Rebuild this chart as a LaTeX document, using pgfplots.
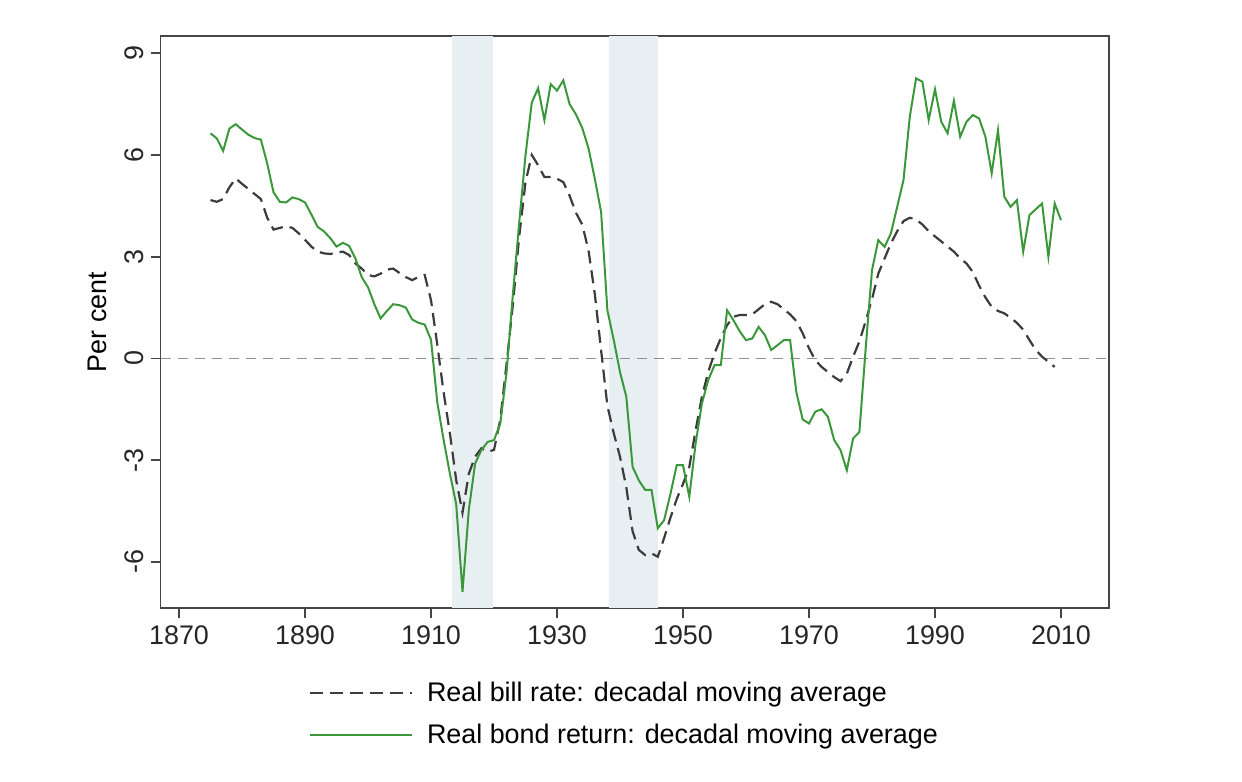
\documentclass[border=0pt]{standalone}
\usepackage{fontspec}
\setmainfont{Liberation Sans}
\usepackage{pgfplots}
\usepackage{pgfplotstable}
\pgfplotsset{compat=1.18}
\definecolor{bondgreen}{RGB}{58,152,58}
\definecolor{billgray}{RGB}{60,60,60}
\definecolor{shade}{RGB}{232,239,242}
\definecolor{axisgray}{RGB}{70,70,70}
\definecolor{zerogray}{RGB}{145,145,145}

\pgfplotstableread{
year val
1875 4.67
1876 4.62
1877 4.70
1878 5.05
1879 5.31
1880 5.15
1881 5.00
1882 4.85
1883 4.70
1884 4.15
1885 3.80
1886 3.85
1887 3.90
1888 3.85
1889 3.69
1890 3.50
1891 3.30
1892 3.15
1893 3.10
1894 3.08
1895 3.12
1896 3.15
1897 3.05
1898 2.80
1899 2.65
1900 2.46
1901 2.42
1902 2.50
1903 2.62
1904 2.65
1905 2.52
1906 2.40
1907 2.31
1908 2.40
1909 2.46
1910 1.72
1911 0.40
1912 -1.00
1913 -2.21
1914 -3.59
1915 -4.55
1916 -3.40
1917 -2.90
1918 -2.65
1919 -2.75
1920 -2.70
1921 -1.80
1922 -0.15
1923 1.60
1924 3.60
1925 5.20
1926 6.00
1927 5.70
1928 5.35
1929 5.35
1930 5.30
1931 5.20
1932 4.80
1933 4.30
1934 3.95
1935 3.19
1936 1.90
1937 0.24
1938 -1.40
1939 -2.20
1940 -2.90
1941 -3.80
1942 -5.10
1943 -5.65
1944 -5.80
1945 -5.75
1946 -5.85
1947 -5.30
1948 -4.70
1949 -4.15
1950 -3.70
1951 -3.20
1952 -2.12
1953 -1.13
1954 -0.40
1955 0.15
1956 0.60
1957 0.98
1958 1.23
1959 1.28
1960 1.28
1961 1.30
1962 1.45
1963 1.60
1964 1.67
1965 1.60
1966 1.45
1967 1.30
1968 1.10
1969 0.74
1970 0.30
1971 -0.05
1972 -0.25
1973 -0.40
1974 -0.55
1975 -0.67
1976 -0.45
1977 0.05
1978 0.50
1979 1.10
1980 1.75
1981 2.50
1982 2.95
1983 3.39
1984 3.75
1985 4.05
1986 4.15
1987 4.10
1988 3.95
1989 3.75
1990 3.60
1991 3.45
1992 3.30
1993 3.15
1994 2.95
1995 2.80
1996 2.55
1997 2.15
1998 1.80
1999 1.52
2000 1.40
2001 1.33
2002 1.20
2003 1.05
2004 0.85
2005 0.54
2006 0.25
2007 0.05
2008 -0.10
2009 -0.25
}\billtable

\pgfplotstableread{
year val
1875 6.64
1876 6.49
1877 6.12
1878 6.78
1879 6.91
1880 6.75
1881 6.60
1882 6.50
1883 6.45
1884 5.75
1885 4.90
1886 4.62
1887 4.60
1888 4.75
1889 4.70
1890 4.60
1891 4.25
1892 3.88
1893 3.75
1894 3.55
1895 3.30
1896 3.41
1897 3.32
1898 2.95
1899 2.40
1900 2.10
1901 1.60
1902 1.18
1903 1.40
1904 1.60
1905 1.57
1906 1.50
1907 1.15
1908 1.05
1909 1.00
1910 0.55
1911 -1.30
1912 -2.40
1913 -3.40
1914 -4.30
1915 -6.88
1916 -4.47
1917 -3.10
1918 -2.70
1919 -2.46
1920 -2.41
1921 -1.92
1922 -0.40
1923 1.90
1924 4.00
1925 6.00
1926 7.55
1927 7.97
1928 7.03
1929 8.09
1930 7.90
1931 8.20
1932 7.50
1933 7.20
1934 6.80
1935 6.20
1936 5.30
1937 4.32
1938 1.42
1939 0.55
1940 -0.40
1941 -1.13
1942 -3.20
1943 -3.60
1944 -3.88
1945 -3.88
1946 -5.01
1947 -4.77
1948 -4.00
1949 -3.15
1950 -3.15
1951 -4.08
1952 -2.51
1953 -1.33
1954 -0.64
1955 -0.20
1956 -0.20
1957 1.42
1958 1.13
1959 0.80
1960 0.54
1961 0.59
1962 0.93
1963 0.69
1964 0.25
1965 0.39
1966 0.54
1967 0.54
1968 -1.00
1969 -1.80
1970 -1.92
1971 -1.57
1972 -1.50
1973 -1.72
1974 -2.41
1975 -2.70
1976 -3.30
1977 -2.36
1978 -2.17
1979 0.30
1980 2.60
1981 3.49
1982 3.29
1983 3.69
1984 4.47
1985 5.26
1986 7.13
1987 8.26
1988 8.16
1989 7.03
1990 7.94
1991 6.98
1992 6.64
1993 7.60
1994 6.54
1995 6.98
1996 7.18
1997 7.08
1998 6.54
1999 5.46
2000 6.73
2001 4.77
2002 4.47
2003 4.67
2004 3.15
2005 4.23
2006 4.40
2007 4.57
2008 3.00
2009 4.57
2010 4.08
}\bondtable

\begin{document}
\begin{tikzpicture}
\begin{axis}[
  at={(0,0)}, anchor=south west,
  scale only axis, width=474.4bp, height=286.15bp,
  xmin=1867.06, xmax=2017.67, ymin=-7.37, ymax=9.51,
  xtick={1870,1890,1910,1930,1950,1970,1990,2010},
  ytick={-6,-3,0,3,6,9},
  xtick pos=bottom, ytick pos=left,
  tick align=outside, major tick length=5bp,
  tick style={axisgray, line width=0.9bp},
  axis line style={axisgray, line width=0.9bp},
  /pgf/number format/1000 sep={},
  /pgf/number format/assume math mode=true,
  font=\fontsize{13.5}{16}\selectfont,
  tick label style={font=\fontsize{13.5}{16}\selectfont, text=black!85},
  yticklabel style={rotate=90, anchor=south},
  ylabel={Per cent},
  ylabel style={at={(axis description cs:-0.0664,0.5)}, anchor=center, font=\fontsize{13.5}{16}\selectfont},
  legend style={at={(axis description cs:0.49,0)}, anchor=north, yshift=-32.5bp,
    draw=none, fill=none, font=\fontsize{13.5}{16}\selectfont, row sep=6bp},
  legend cell align=left,
  legend image code/.code={\path[draw=none] (0bp,0bp) -- (56.5bp,0bp);\draw[#1] (0bp,0bp) -- (51bp,0bp);},
  clip=true,
]
\addplot[fill=shade, draw=none, forget plot] coordinates {(1913.3,-7.37) (1919.9,-7.37) (1919.9,9.51) (1913.3,9.51)} -- cycle;
\addplot[fill=shade, draw=none, forget plot] coordinates {(1938.3,-7.37) (1946.1,-7.37) (1946.1,9.51) (1938.3,9.51)} -- cycle;
\addplot[zerogray, line width=0.7bp, dash pattern=on 5bp off 3.5bp, forget plot] coordinates {(1867.06,0) (2017.67,0)};
\addplot[billgray, line width=1.1bp, dash pattern=on 6.5bp off 3.5bp] table[x=year,y=val] {\billtable};
\addlegendentry{Real bill rate: decadal moving average}
\addplot[bondgreen, line width=1bp] table[x=year,y=val] {\bondtable};
\addlegendentry{Real bond return: decadal moving average}
\end{axis}
\pgfresetboundingbox
\useasboundingbox (-80.25bp,-86.85bp) rectangle (540.75bp,304.15bp);
\end{tikzpicture}
\end{document}
